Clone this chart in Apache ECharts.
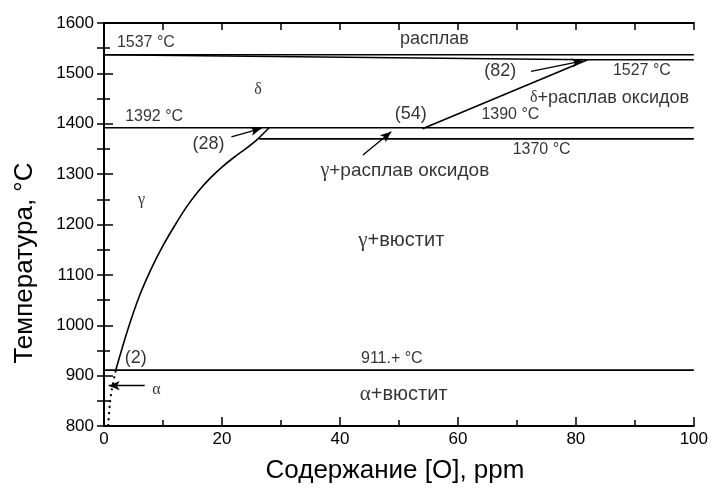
<!DOCTYPE html>
<html><head><meta charset="utf-8">
<script src="https://cdn.jsdelivr.net/npm/echarts@6/dist/echarts.min.js"></script>
<style>html,body{margin:0;padding:0;background:#fff}#c{width:711px;height:489px}</style>
</head><body><div id="c"></div>
<script>
// ---- data (x: ppm O, y: °C) ----
const xTicks = [0, 20, 40, 60, 80, 100];
const yTicks = [800, 900, 1000, 1100, 1200, 1300, 1400, 1500, 1600];
const liquidusTop = [[0, 1537], [100, 1537]];
const liquidusSlope = [[0, 1537], [82, 1527]];
const line1527 = [[82, 1527], [100, 1527]];
const line1392 = [[0, 1392], [100, 1392]];
const line1370 = [[26.3, 1370], [100, 1370]];
const line911 = [[0, 911], [100, 911]];
const gammaSolvus = [[2, 911], [4, 990], [6, 1058], [8, 1112], [10, 1158], [12, 1198], [14, 1235], [16, 1266], [18, 1292], [20, 1314], [22, 1333], [24, 1350], [26, 1369], [28, 1392]];
const deltaSolvus = [[54, 1390], [82, 1527]];
const alphaSolvus = [[0.7, 800], [1.0, 845], [1.3, 871], [2, 911]];
const arrows = [
  [[21.6, 1374], [26.7, 1391]],
  [[72.4, 1504], [81.2, 1525]],
  [[43.9, 1338], [48.7, 1384]],
  [[6.9, 880], [0.8, 880]]
];
// labels: [x, y, text, style]
const labels = [
  [7.1, 1562, '1537 °C', 's16'],
  [56.0, 1569, 'расплав', 's18'],
  [26.1, 1467, '{g|δ}', 'g'],
  [91.2, 1505, '1527 °C', 's16'],
  [67.2, 1504, '(82)', 's18'],
  [85.7, 1451, '{g|δ}+расплав оксидов', 's18'],
  [8.5, 1414, '1392 °C', 's16'],
  [52.0, 1420, '(54)', 's18'],
  [68.9, 1418, '1390 °C', 's16'],
  [17.7, 1360, '(28)', 's18'],
  [74.2, 1348, '1370 °C', 's16'],
  [51.0, 1306, '{gb|γ}+расплав оксидов', 's19'],
  [6.35, 1249, '{g|γ}', 'g'],
  [50.4, 1169, '{gb|γ}+вюстит', 's20'],
  [48.8, 933, '911.+ °C', 's16'],
  [5.4, 934, '(2)', 's18'],
  [8.9, 871, '{g|α}', 'g'],
  [50.8, 862, '{gb|α}+вюстит', 's20']
];
const xTitle = 'Содержание [O], ppm';
const yTitle = 'Температура, °C';

const sizes = {s16: 16, s18: 18, s19: 19, s20: 20, g: 16};
const SANS = '"Liberation Sans", Arial, sans-serif';
const SERIF = '"Liberation Serif", "DejaVu Serif", serif';

const chart = echarts.init(document.getElementById('c'));
const lineStyle = {color: '#000', width: 1.6};
function seg(data, extra) {
  return Object.assign({type: 'line', data: data, symbol: 'none', silent: true,
    lineStyle: Object.assign({}, lineStyle), animation: false, z: 3}, extra || {});
}
const axisCommon = {
  min: 0, max: 100, interval: 20,
  axisLine: {show: true, lineStyle: {color: '#000', width: 2}},
  splitLine: {show: false}
};
chart.setOption({
  animation: false,
  backgroundColor: '#fff',
  grid: {left: 104, right: 16, top: 23, bottom: 63},
  xAxis: [
    Object.assign({}, axisCommon, {type: 'value', position: 'bottom',
      axisTick: {show: true, inside: true, length: 9, lineStyle: {color: '#000', width: 1.5}},
      minorTick: {show: true, splitNumber: 2, length: 6, lineStyle: {color: '#000', width: 1.5}},
      axisLabel: {color: '#000', fontSize: 17, fontFamily: SANS, margin: 5,
        formatter: v => xTicks.indexOf(v) >= 0 ? String(v) : ''}}),
    Object.assign({}, axisCommon, {type: 'value', position: 'top',
      axisTick: {show: true, inside: true, length: 7, lineStyle: {color: '#000', width: 1.5}},
      minorTick: {show: true, splitNumber: 2, length: 7, lineStyle: {color: '#000', width: 1.5}},
      axisLabel: {show: false}})
  ],
  yAxis: [
    {type: 'value', min: 800, max: 1600, interval: 100, position: 'left',
      axisLine: {show: true, lineStyle: {color: '#000', width: 2}}, splitLine: {show: false},
      axisTick: {show: true, inside: true, length: 9, lineStyle: {color: '#000', width: 1.5}},
      minorTick: {show: true, splitNumber: 2, length: 6, lineStyle: {color: '#000', width: 1.5}},
      axisLabel: {color: '#000', fontSize: 17, fontFamily: SANS, margin: 10,
        formatter: v => yTicks.indexOf(v) >= 0 ? String(v) : ''}},
    {type: 'value', min: 800, max: 1600, interval: 100, position: 'right',
      axisLine: {show: true, lineStyle: {color: '#000', width: 2}}, splitLine: {show: false},
      axisTick: {show: true, inside: true, length: 7, lineStyle: {color: '#000', width: 1.5}},
      minorTick: {show: true, splitNumber: 2, length: 7, lineStyle: {color: '#000', width: 1.5}},
      axisLabel: {show: false}}
  ],
  graphic: [
    {type: 'text', x: 395, y: 471, style: {text: xTitle, fill: '#000', font: '26px ' + SANS,
      textAlign: 'center', textVerticalAlign: 'middle'}},
    {type: 'text', x: 25, y: 263, rotation: Math.PI / 2, style: {text: yTitle, fill: '#000',
      font: '26px ' + SANS, textAlign: 'center', textVerticalAlign: 'middle'}}
  ],
  series: [
    seg(liquidusTop),
    seg(liquidusSlope),
    seg(line1527),
    seg(line1392),
    seg(line1370),
    seg(line911),
    seg(gammaSolvus, {smooth: 0.3}),
    seg(deltaSolvus),
    seg(alphaSolvus, {smooth: 0.3, lineStyle: {color: '#000', width: 2, type: [2, 4]}}),
    {type: 'line', data: [], silent: true, animation: false,
      markLine: {silent: true, symbol: ['none', 'arrow'], symbolSize: [7, 11], animation: false,
        label: {show: false}, lineStyle: {color: '#000', width: 1.3, type: 'solid'},
        data: arrows.map(a => [{coord: a[0]}, {coord: a[1]}])}},
    {type: 'scatter', silent: true, animation: false, symbolSize: 1,
      itemStyle: {color: 'rgba(0,0,0,0)'},
      data: labels.map(l => ({value: [l[0], l[1]],
        label: {show: true, position: 'inside', formatter: l[2], color: '#000',
          fontFamily: SANS, fontSize: sizes[l[3]],
          rich: {g: {fontFamily: SERIF, fontSize: 16, color: '#000'},
                 gb: {fontFamily: SERIF, fontSize: sizes[l[3]] + 1, color: '#000'}}}}))}
  ]
});
</script></body></html>
